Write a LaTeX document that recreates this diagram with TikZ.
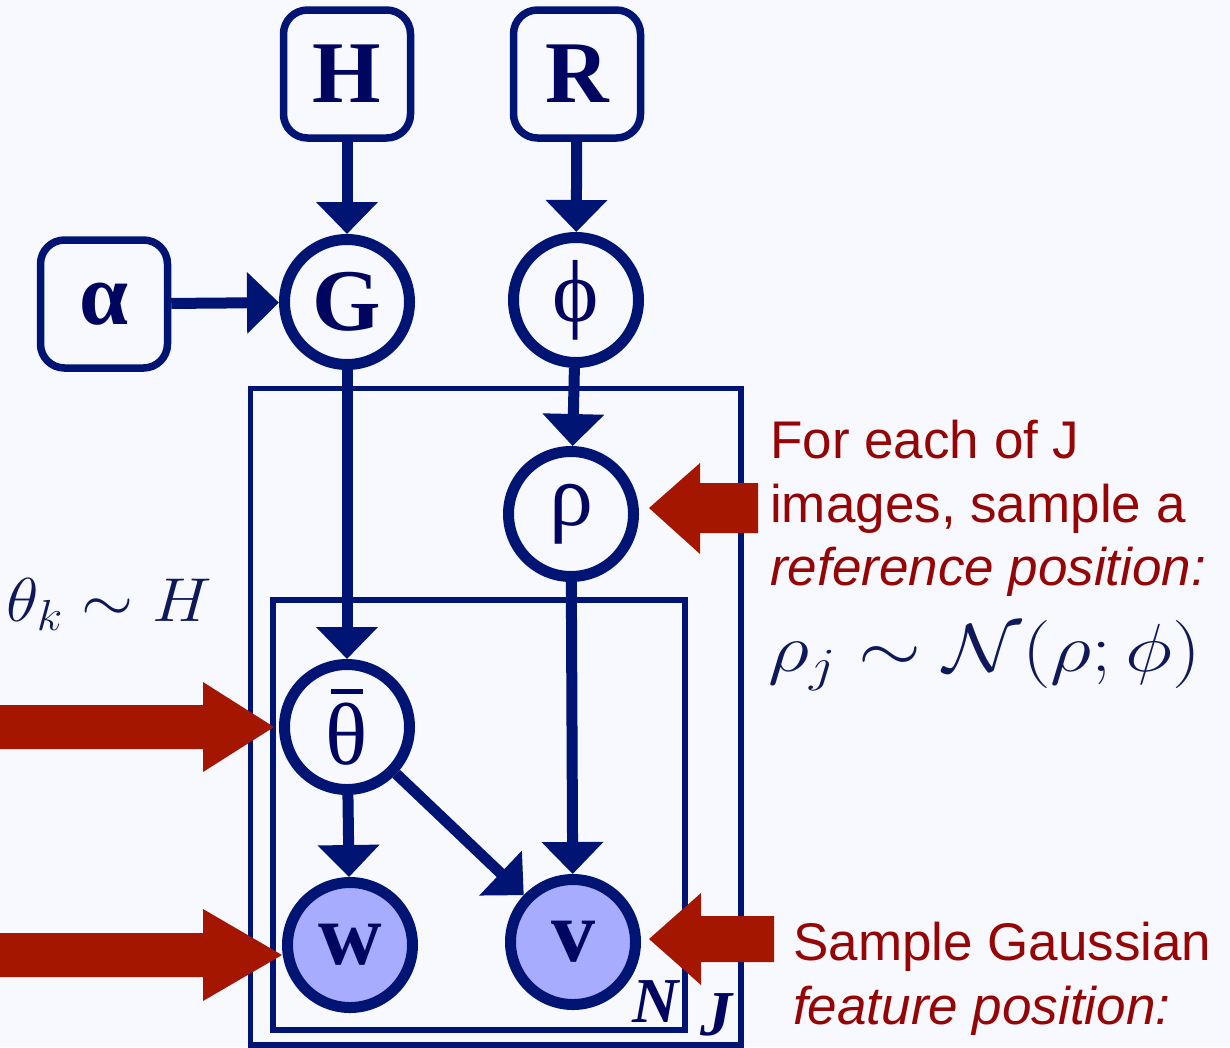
\RequirePackage{fix-cm}
\documentclass[tikz,border=0pt]{standalone}
\usepackage[no-math]{fontspec}
\usepackage{amsmath,amssymb}
\usepackage{graphicx}
\setmainfont{Liberation Serif}
\newfontfamily\notefont{Liberation Sans}
\usetikzlibrary{arrows.meta,positioning,calc}
\definecolor{pgmnavy}{RGB}{0,20,115}
\definecolor{pgmink}{RGB}{0,5,95}
\definecolor{pgmfill}{RGB}{168,172,255}
\definecolor{pgmbg}{RGB}{247,249,255}
\definecolor{pgmred}{RGB}{165,22,0}
\definecolor{pgmtext}{RGB}{150,5,5}
\definecolor{pgmmath}{RGB}{15,25,90}
\newcommand{\varfont}{\fontsize{88}{88}\selectfont\bfseries}
\newcommand{\notesize}{\fontsize{53}{63.5}\selectfont\notefont}
\newcommand{\barredtheta}{\ooalign{\hidewidth\rule[70pt]{32pt}{5pt}\hidewidth\cr\mdseries θ\cr}}
\tikzset{
  hyper/.style={
    rectangle, rounded corners=24pt, draw=pgmnavy, line width=7.5pt,
    fill=pgmbg, minimum width=127pt, minimum height=128pt,
    inner sep=0pt, text=pgmink, font=\varfont
  },
  latent/.style={
    circle, draw=pgmnavy, line width=11pt, fill=pgmbg,
    minimum size=125pt, inner sep=0pt, text=pgmink, font=\varfont
  },
  observed/.style={
    latent, fill=pgmfill
  },
  edge/.style={-{Triangle[length=32pt,width=60pt]}, line width=11pt, draw=pgmnavy},
  plate/.style={draw=pgmnavy, line width=5.5pt},
  platelbl/.style={font=\fontsize{64}{64}\selectfont\bfseries\itshape, text=pgmink, inner sep=0pt},
  note/.style={font=\notesize, text=pgmtext, align=left, inner sep=0pt},
  mathnote/.style={anchor=base west, inner sep=0pt, text=pgmmath},
  pointer/.style={fill=pgmred}
}
\begin{document}
\begin{tikzpicture}[x=1pt, y=-1pt]
  \fill[pgmbg] (0,0) rectangle (1230,1047);
  \useasboundingbox (0,0) rectangle (1230,1047);
  % Plates
  \draw[plate] (250.5,388.5) rectangle (741,1045);
  \draw[plate] (273,600) rectangle (685,1030);
  \node[platelbl, anchor=base] (nlbl) at (656,1022) {N};
  \node[platelbl, anchor=base] (jlbl) at (716,1035) {J};
  % Hyperparameters
  \node[hyper] (hyperH) at (347,74) {H};
  \node[hyper] (hyperR) at (577,74) {R};
  \node[hyper] (alpha) at (104,304) {α};
  % Random variables
  \node[latent] (globalG) at (347,302) {G};
  \node[latent] (phi) at (576,300) {\mdseries ϕ};
  \node[latent] (rho) at (571,514) {\mdseries ρ};
  \node[latent] (thetabar) at (347,727) {\barredtheta};
  \node[observed] (obsw) at (350,945) {w};
  \node[observed] (obsv) at (573,942) {v};
  % Dependencies
  \draw[edge] (hyperH) -- (globalG);
  \draw[edge] (hyperR) -- (phi);
  \draw[edge] (alpha) -- (globalG);
  \draw[edge] (globalG) -- (thetabar);
  \draw[edge] (phi) -- (rho);
  \draw[edge] (rho) -- (obsv);
  \draw[edge] (thetabar) -- (obsw);
  \draw[edge] (thetabar) -- (obsv);
  % Red pointers
  \fill[pointer] (274,727) -- (203,682) -- (203,705) -- (-5,705) -- (-5,749)
    -- (203,749) -- (203,772) -- cycle;
  \fill[pointer] (282,955) -- (203,909) -- (203,933) -- (-5,933) -- (-5,977)
    -- (203,977) -- (203,1001) -- cycle;
  \fill[pointer] (649,508) -- (700,463) -- (700,483) -- (758,483) -- (758,533)
    -- (700,533) -- (700,554) -- cycle;
  \fill[pointer] (649,939) -- (701,893) -- (701,916) -- (774,916) -- (774,962)
    -- (701,962) -- (701,985) -- cycle;
  % Annotations
  \node[note, anchor=north west] (refnote) at (770,420)
    {For each of J\\images, sample a\\\textit{reference position:}};
  \node[mathnote, font=\fontsize{68}{68}\selectfont] (refeq) at (768,671)
    {\scalebox{1.19}[1]{$\rho_j \sim \mathcal{N}(\rho;\phi)$}};
  \node[mathnote, font=\fontsize{62}{62}\selectfont] (thetaeq) at (6,621)
    {\scalebox{1.08}[1]{$\theta_k \sim H$}};
  \node[note, anchor=north west] (featnote) at (793,922)
    {Sample Gaussian\\\textit{feature position:}};
\end{tikzpicture}
\end{document}
